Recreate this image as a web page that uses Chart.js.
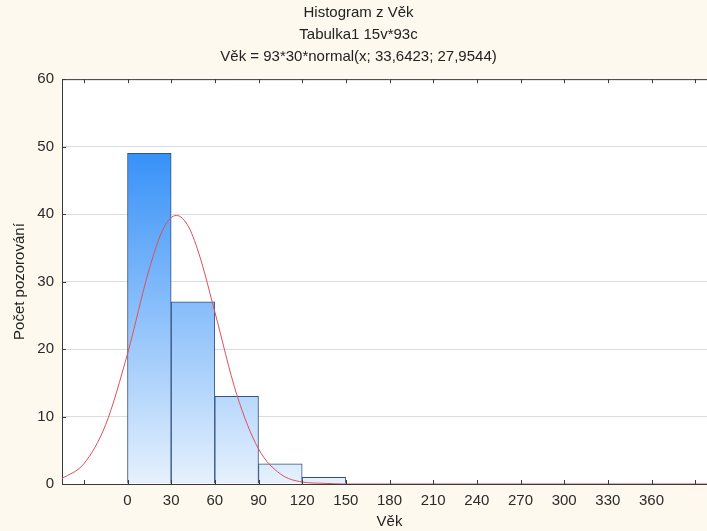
<!DOCTYPE html>
<html>
<head>
<meta charset="utf-8">
<script src="https://cdn.jsdelivr.net/npm/chart.js@4"></script>
<style>
    html, body { margin: 0; padding: 0; overflow: hidden; background: #fdf9ee; }
    #wrap { width: 722px; height: 531px; }
</style>
</head>
<body>
<div id="wrap"><canvas id="histChart" width="722" height="531"></canvas></div>
<script>
/* ===================== DATA ===================== */

const titleLines = ["Histogram z Věk", "Tabulka1 15v*93c", "Věk = 93*30*normal(x; 33,6423; 27,9544)"];
const xTitle = "Věk";
const yTitle = "Počet pozorování";

// histogram classes (width 30) and counts
const binCenters = [15, 45, 75, 105, 135];
const binCounts = [49, 27, 13, 3, 1];

// fitted normal curve
const curveX = [-45, -30, -15, 0, 15, 25, 33.6, 42, 50, 60, 75, 90, 105, 120, 135, 150, 180, 240, 300, 405];
const curveY = [0.8, 3.0, 8.8, 19.3, 31.9, 38.0, 39.8, 38.1, 33.5, 25.5, 13.3, 5.2, 1.5, 0.3, 0.1, 0, 0, 0, 0, 0];

// axis ticks
const xTickValues = [-30, 0, 30, 60, 90, 120, 150, 180, 210, 240, 270, 300, 330, 360, 390];
const xTickLabels = ["", "0", "30", "60", "90", "120", "150", "180", "210", "240", "270", "300", "330", "360", ""];
const yTickValues = [0, 10, 20, 30, 40, 50, 60];

/* ===================== HELPERS ===================== */

const FONT = "'Liberation Sans', Arial, sans-serif";
const AXIS_COLOR = "#3a3a3a";

function barGradient(context) {
    const chart = context.chart;
    const area = chart.chartArea;
    if (!area) return "#6aaef5";
    const g = chart.ctx.createLinearGradient(0, area.bottom, 0, area.top);
    g.addColorStop(0, "#e6f1fd");
    g.addColorStop(1, "#107cf7");
    return g;
}

// top frame line and short inward tick marks
const framePlugin = {
    id: "frame",
    afterDatasetsDraw(chart) {
        const { ctx, chartArea: a, scales } = chart;
        ctx.save();
        ctx.strokeStyle = AXIS_COLOR;
        ctx.lineWidth = 1;
        ctx.beginPath();
        ctx.moveTo(a.left, a.top + 0.5);
        ctx.lineTo(a.right, a.top + 0.5);
        xTickValues.forEach(v => {
            const px = Math.round(scales.x.getPixelForValue(v)) + 0.5;
            ctx.moveTo(px, a.bottom);
            ctx.lineTo(px, a.bottom - 4);
            ctx.moveTo(px, a.top);
            ctx.lineTo(px, a.top + 4);
        });
        yTickValues.forEach(v => {
            const py = Math.round(scales.y.getPixelForValue(v)) + 0.5;
            ctx.moveTo(a.left, py);
            ctx.lineTo(a.left + 4, py);
        });
        ctx.stroke();
        ctx.restore();
    },
};

// white plot area on the cream page
const plotBgPlugin = {
    id: "plotBg",
    beforeDraw(chart) {
        const { ctx, chartArea: a } = chart;
        ctx.save();
        ctx.fillStyle = "#ffffff";
        ctx.fillRect(a.left, a.top, a.right - a.left, a.bottom - a.top);
        ctx.restore();
    },
};

/* ===================== CHART ===================== */

new Chart(document.getElementById("histChart"), {
    type: "bar",
    data: {
        datasets: [
            {
                type: "line",
                data: curveX.map((x, i) => ({ x, y: curveY[i] })),
                borderColor: "#de4f5c",
                borderWidth: 1,
                pointRadius: 0,
                cubicInterpolationMode: "monotone",
                order: 0,
            },
            {
                type: "bar",
                data: binCenters.map((x, i) => ({ x, y: binCounts[i] })),
                backgroundColor: barGradient,
                borderColor: "#33527e",
                borderWidth: 1,
                categoryPercentage: 1,
                barPercentage: 1,
                order: 1,
            },
        ],
    },
    options: {
        responsive: false,
        animation: false,
        layout: { padding: { left: 0, right: 5, top: 0, bottom: 0 } },
        plugins: {
            legend: { display: false },
            tooltip: { enabled: false },
            title: {
                display: true,
                text: titleLines,
                color: "#222",
                font: { family: FONT, size: 15, weight: "normal", lineHeight: 1.47 },
                padding: { top: 2, bottom: 11 },
            },
        },
        scales: {
            x: {
                type: "linear",
                offset: false,
                min: -45,
                max: 405,
                afterBuildTicks: scale => {
                    scale.ticks = xTickValues.map(v => ({ value: v }));
                },
                afterFit: scale => { scale.height = 47; },
                grid: { display: false, drawTicks: false },
                border: { display: true, color: AXIS_COLOR, width: 1 },
                ticks: {
                    autoSkip: false,
                    maxRotation: 0,
                    padding: 8,
                    color: "#2a2a2a",
                    font: { family: FONT, size: 15 },
                    callback: (v, i) => xTickLabels[i],
                },
                title: {
                    display: true,
                    text: xTitle,
                    color: "#222",
                    font: { family: FONT, size: 15 },
                    padding: { top: 0, bottom: 0 },
                },
            },
            y: {
                min: 0,
                max: 60,
                afterBuildTicks: scale => {
                    scale.ticks = yTickValues.map(v => ({ value: v }));
                },
                afterFit: scale => { scale.width = 62; },
                grid: { color: "#dcdcdc", drawTicks: false },
                border: { display: true, color: AXIS_COLOR, width: 1 },
                ticks: {
                    padding: 8,
                    color: "#2a2a2a",
                    font: { family: FONT, size: 15 },
                },
                title: {
                    display: true,
                    text: yTitle,
                    color: "#222",
                    font: { family: FONT, size: 15 },
                    padding: { top: 11, bottom: 0 },
                },
            },
        },
    },
    plugins: [plotBgPlugin, framePlugin],
});
</script>
</body>
</html>
